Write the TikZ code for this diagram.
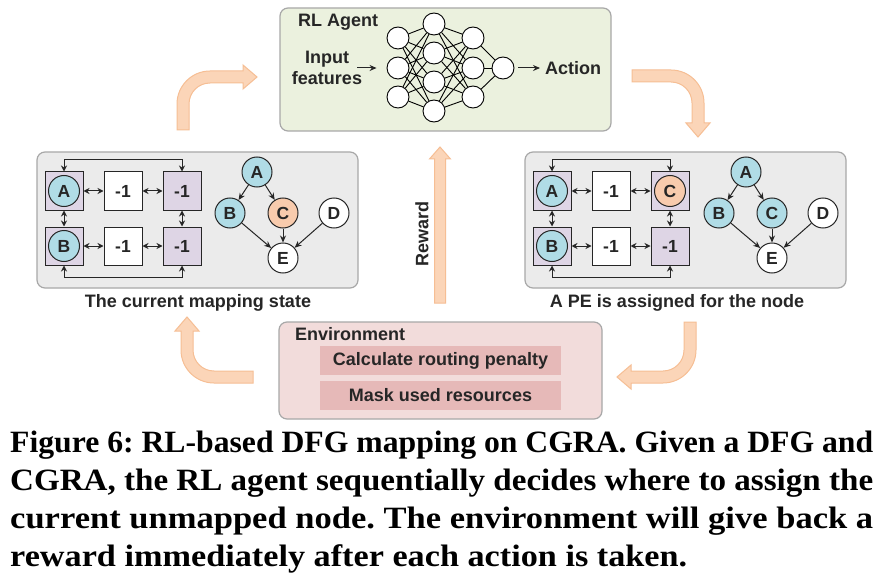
\documentclass[tikz,border=0pt]{standalone}
\usepackage{fontspec}
\setmainfont{Liberation Serif}
\newfontfamily\figsans{Liberation Sans}
\usetikzlibrary{arrows.meta}
\frenchspacing
\definecolor{panelfill}{HTML}{EBEBEB}
\definecolor{panelline}{HTML}{A8A8A8}
\definecolor{agentfill}{HTML}{EBF1DE}
\definecolor{envfill}{HTML}{F2DCDB}
\definecolor{envinner}{HTML}{E6B9B8}
\definecolor{pefill}{HTML}{DED5E5}
\definecolor{bluefill}{HTML}{B0DCE6}
\definecolor{orangefill}{HTML}{F8CBAD}
\definecolor{arrowfill}{HTML}{FBD5B8}
\definecolor{arrowline}{HTML}{F6BE94}
\definecolor{ink}{HTML}{262626}
\tikzset{
  panel/.style={draw=panelline, fill=panelfill, rounded corners=8pt, line width=1.2pt},
  lbl/.style={font=\figsans\bfseries\fontsize{18}{21}\selectfont, text=ink, inner sep=0pt},
  pe/.style={draw=ink, line width=1pt, minimum size=38pt, inner sep=0pt, text=ink,
    font=\figsans\bfseries\fontsize{17.5}{17.5}\selectfont},
  dfg/.style={circle, draw=ink, line width=1pt, minimum size=30pt, inner sep=0pt, text=ink,
    font=\figsans\bfseries\fontsize{17.5}{17.5}\selectfont},
  conn/.style={ink, line width=1pt, {Stealth[length=6pt,width=6pt]}-{Stealth[length=6pt,width=6pt]}},
  dep/.style={ink, line width=1pt, -{Stealth[length=7pt,width=6pt]}},
  neuron/.style={circle, draw=black, line width=0.9pt, fill=white, minimum size=22pt, inner sep=0pt},
  nnedge/.style={black, line width=0.9pt},
  fatarrow/.style={fill=arrowfill, draw=arrowline, line width=1pt, line join=miter},
  envbox/.style={fill=envinner, minimum width=241pt, minimum height=29pt, inner sep=0pt,
    font=\figsans\bfseries\fontsize{18}{21}\selectfont, text=ink},
  capline/.style={anchor=base west, inner sep=0pt, font=\bfseries\fontsize{31}{38}\selectfont, text=black}
}
\begin{document}
\begin{tikzpicture}[x=1pt, y=-1pt]
\useasboundingbox (0,0) rectangle (880,580);
\fill[white] (0,0) rectangle (880,580);

% ---------------- RL agent ----------------
\draw[panel, fill=agentfill] (280,8) rectangle (611,131);
\node[lbl, anchor=west] (agent) at (298,22.5) {RL Agent};
\node[lbl, align=center] (inp) at (327,68) {Input\\features};
\foreach \i/\y in {1/38,2/68,3/97} { \node[neuron] (a\i) at (398,\y) {}; }
\foreach \i/\y in {1/24,2/53,3/82,4/111} { \node[neuron] (b\i) at (434,\y) {}; }
\foreach \i/\y in {1/38,2/68,3/97} { \node[neuron] (c\i) at (473,\y) {}; }
\node[neuron] (out) at (503,68) {};
\foreach \i in {1,2,3} { \foreach \j in {1,2,3,4} { \draw[nnedge] (a\i) -- (b\j); \draw[nnedge] (b\j) -- (c\i); } }
\foreach \i in {1,2,3} { \draw[nnedge] (c\i) -- (out); }
\coordinate (inarr) at (357,68);
\draw[dep, shorten >=10pt] (inarr) -- (a2.west);
\node[lbl, anchor=west] (act) at (545,68) {Action};
\draw[dep, shorten <=4pt, shorten >=5pt] (out.east) -- (act.west);

% ---------------- left panel ----------------
\draw[panel] (37,152) rectangle (358,288);
\node[pe, fill=pefill] (l11) at (64,191) {};
\node[dfg, fill=bluefill, minimum size=31pt] (lmA) at (l11) {A};
\node[pe, fill=white] (l12) at (123,191) {-1};
\node[pe, fill=pefill] (l13) at (182,191) {-1};
\node[pe, fill=pefill] (l21) at (64,246) {};
\node[dfg, fill=bluefill, minimum size=31pt] (lmB) at (l21) {B};
\node[pe, fill=white] (l22) at (123,246) {-1};
\node[pe, fill=pefill] (l23) at (182,246) {-1};
\draw[conn] (l11) -- (l12); \draw[conn] (l12) -- (l13);
\draw[conn] (l21) -- (l22); \draw[conn] (l22) -- (l23);
\draw[conn] (l11) -- (l21); \draw[conn] (l13) -- (l23);
\draw[conn] (l11.north) -- ++(0,-12) -| (l13.north);
\draw[conn] (l21.south) -- ++(0,12) -| (l23.south);
\node[dfg, fill=bluefill] (lgA) at (257,172) {A};
\node[dfg, fill=bluefill] (lgB) at (230,213) {B};
\node[dfg, fill=orangefill] (lgC) at (283,213) {C};
\node[dfg, fill=white] (lgD) at (334,213) {D};
\node[dfg, fill=white] (lgE) at (283,258) {E};
\draw[dep] (lgA) -- (lgB); \draw[dep] (lgA) -- (lgC);
\draw[dep] (lgB) -- (lgE); \draw[dep] (lgC) -- (lgE); \draw[dep] (lgD) -- (lgE);
\node[lbl] (lcap) at (198,303) {The current mapping state};

% ---------------- right panel ----------------
\begin{scope}[xshift=488pt]
\draw[panel] (37,152) rectangle (358,288);
\node[pe, fill=pefill] (r11) at (64,191) {};
\node[dfg, fill=bluefill, minimum size=31pt] (rmA) at (r11) {A};
\node[pe, fill=white] (r12) at (123,191) {-1};
\node[pe, fill=pefill] (r13) at (182,191) {};
\node[dfg, fill=orangefill, minimum size=31pt] (rmC) at (r13) {C};
\node[pe, fill=pefill] (r21) at (64,246) {};
\node[dfg, fill=bluefill, minimum size=31pt] (rmB) at (r21) {B};
\node[pe, fill=white] (r22) at (123,246) {-1};
\node[pe, fill=pefill] (r23) at (182,246) {-1};
\draw[conn] (r11) -- (r12); \draw[conn] (r12) -- (r13);
\draw[conn] (r21) -- (r22); \draw[conn] (r22) -- (r23);
\draw[conn] (r11) -- (r21); \draw[conn] (r13) -- (r23);
\draw[conn] (r11.north) -- ++(0,-12) -| (r13.north);
\draw[conn] (r21.south) -- ++(0,12) -| (r23.south);
\node[dfg, fill=bluefill] (rgA) at (258,172) {A};
\node[dfg, fill=bluefill] (rgB) at (231,213) {B};
\node[dfg, fill=bluefill] (rgC) at (284,213) {C};
\node[dfg, fill=white] (rgD) at (335,213) {D};
\node[dfg, fill=white] (rgE) at (284,258) {E};
\draw[dep] (rgA) -- (rgB); \draw[dep] (rgA) -- (rgC);
\draw[dep] (rgB) -- (rgE); \draw[dep] (rgC) -- (rgE); \draw[dep] (rgD) -- (rgE);
\node[lbl] (rcap) at (189,303) {A PE is assigned for the node};
\end{scope}

% ---------------- environment ----------------
\draw[panel, fill=envfill] (279,322) rectangle (602,419);
\node[lbl, anchor=west] (env) at (295,334) {Environment};
\node[envbox] (calc) at (440.5,360.5) {Calculate routing penalty};
\node[envbox] (mask) at (440.5,395.5) {Mask used resources};

% ---------------- fat arrows ----------------
\filldraw[fatarrow] (177,130) -- (177,104) .. controls (177,85.8) and (191.8,71) .. (210,71)
  -- (243,71) -- (243,65) -- (257,77) -- (243,89) -- (243,83) -- (210,83)
  .. controls (198.4,83) and (189,92.4) .. (189,104) -- (189,130) -- cycle;
\filldraw[fatarrow] (632,70) -- (671,70) .. controls (689.2,70) and (704,84.8) .. (704,103)
  -- (704,123) -- (710,123) -- (698,137) -- (686,123) -- (692,123) -- (692,103)
  .. controls (692,91.4) and (682.6,82) .. (671,82) -- (632,82) -- cycle;
\filldraw[fatarrow] (684,322) -- (696,322) -- (696,350) .. controls (696,368.2) and (681.2,383) .. (663,383)
  -- (631,383) -- (631,389) -- (617,377) -- (631,365) -- (631,371) -- (663,371)
  .. controls (674.6,371) and (684,361.6) .. (684,350) -- cycle;
\filldraw[fatarrow] (253,371) -- (214,371) .. controls (202.4,371) and (193,361.6) .. (193,350)
  -- (193,331) -- (199,331) -- (187,317) -- (175,331) -- (181,331) -- (181,350)
  .. controls (181,368.2) and (195.8,383) .. (214,383) -- (253,383) -- cycle;
\filldraw[fatarrow] (434.5,303) -- (434.5,159) -- (429.5,159) -- (440,147) -- (450.5,159)
  -- (445.5,159) -- (445.5,303) -- cycle;
\node[lbl, rotate=90] (rew) at (422,234) {Reward};

% ---------------- caption ----------------
\node[capline] (cap1) at (10,452) {\resizebox{863pt}{\height}{Figure 6: RL-based DFG mapping on CGRA. Given a DFG and}};
\node[capline] (cap2) at (10,490) {\resizebox{863pt}{\height}{CGRA, the RL agent sequentially decides where to assign the}};
\node[capline] (cap3) at (10,528) {\resizebox{863pt}{\height}{current unmapped node. The environment will give back a}};
\node[capline] (cap4) at (10,566) {\resizebox{677pt}{\height}{reward immediately after each action is taken.}};
\end{tikzpicture}
\end{document}
